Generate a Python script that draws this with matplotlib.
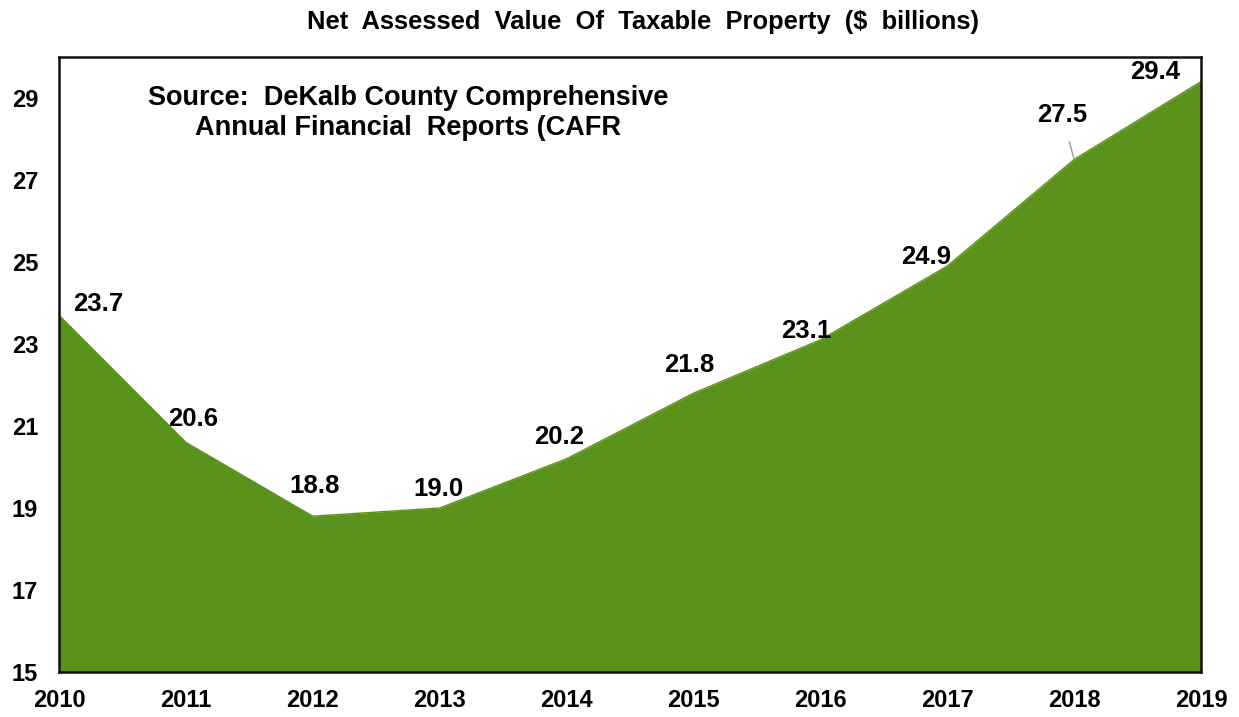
import matplotlib
matplotlib.use("Agg")
import matplotlib.pyplot as plt

years = [2010, 2011, 2012, 2013, 2014, 2015, 2016, 2017, 2018, 2019]
values = [23.7, 20.6, 18.8, 19.0, 20.2, 21.8, 23.1, 24.9, 27.5, 29.4]
y_ticks = [15, 17, 19, 21, 23, 25, 27, 29]

title = "Net  Assessed  Value  Of  Taxable  Property  ($  billions)"
source = "Source:  DeKalb County Comprehensive\nAnnual Financial  Reports (CAFR"

# label offsets in pixels (dx right, dy up)
offsets = [(39, 11), (7, 23.5), (1.5, 30), (-1.5, 19), (-7, 22), (-4, 28),
           (-14.5, 9), (-21, 9.5), (-12, 44.5), (-46, 10)]

plt.rcParams['font.family'] = ['Liberation Sans', 'DejaVu Sans']
plt.rcParams['font.weight'] = 'bold'

dpi = 100
W, H = 1239, 717
fig = plt.figure(figsize=(W / dpi, H / dpi), dpi=dpi)
ax = fig.add_axes([59 / W, 1 - 672 / H, (1201 - 59) / W, (672 - 57) / H])

green = "#5B921B"
ax.fill_between(years, values, 15, color=green, linewidth=0)
ax.plot(years, values, color=green, linewidth=1)

ax.set_xlim(2010, 2019)
ax.set_ylim(15, 30)
ax.set_xticks(years)
ax.set_xticklabels([str(y) for y in years])
ax.set_yticks(y_ticks)
ax.tick_params(axis='both', length=0, labelsize=17)
ax.tick_params(axis='x', pad=12)
ax.tick_params(axis='y', pad=15)
for lbl in ax.get_xticklabels() + ax.get_yticklabels():
    lbl.set_fontweight('bold')

for sp in ax.spines.values():
    sp.set_linewidth(1.8)
    sp.set_color('#111111')

px = 72 / dpi
for i, (yr, v) in enumerate(zip(years, values)):
    dx, dy = offsets[i]
    kw = {}
    if yr == 2018:
        kw['arrowprops'] = dict(arrowstyle='-', color='#9a9a9a', lw=1, shrinkA=9, shrinkB=1)
    ax.annotate(f"{v:.1f}", xy=(yr, v), xytext=(dx * px, dy * px), textcoords='offset points',
                ha='center', va='center', fontsize=18.5, fontweight='bold', color='black',
                annotation_clip=False, **kw)

fig.text(408 / W, 1 - 113 / H, source, ha='center', va='center',
         fontsize=19.5, fontweight='bold', linespacing=1.22)

fig.text(643 / W, 1 - 22 / H, title, ha='center', va='center', fontsize=18.4, fontweight='bold')

fig.savefig("out.png", dpi=dpi)
